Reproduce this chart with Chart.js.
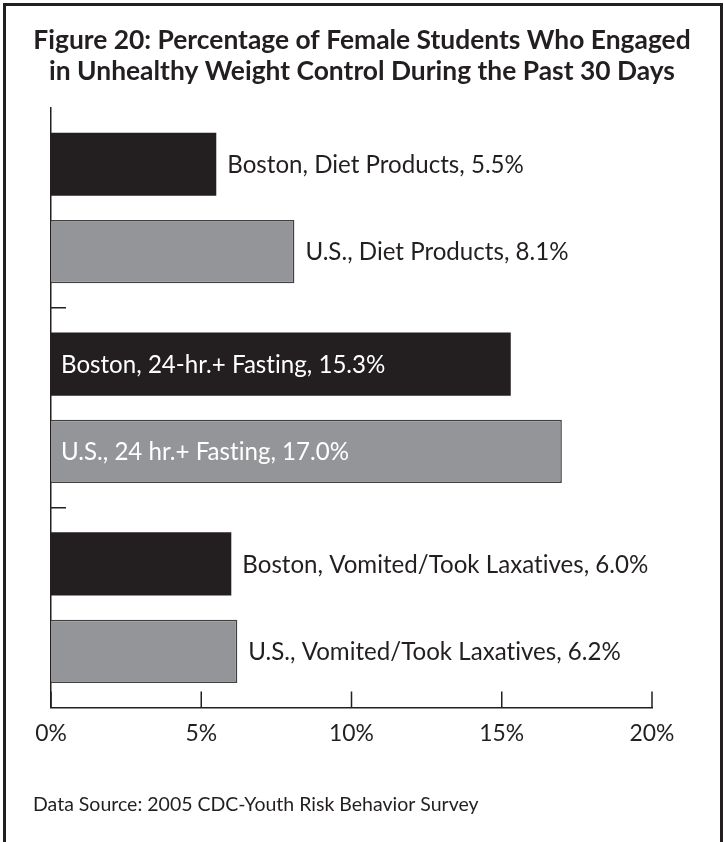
<!DOCTYPE html>
<html>
<head>
<meta charset="utf-8">
<script src="https://cdn.jsdelivr.net/npm/chart.js@4.4.0/dist/chart.umd.min.js"></script>
<style>
  html, body { margin: 0; padding: 0; background: #fff; }
  #frame { position: absolute; left: 3px; top: 3px; width: 720px; height: 1000px; border: 3px solid #231f20; box-sizing: border-box; }
  #wrap { position: absolute; left: 0; top: 0; width: 724px; height: 842px; }
</style>
</head>
<body>
<div id="frame"></div>
<div id="wrap"><canvas id="chart" width="724" height="842"></canvas></div>
<script>
  // data
  const categories = ['Diet Products', '24-hr.+ Fasting', 'Vomited/Took Laxatives'];
  const seriesNames = ['Boston', 'U.S.'];
  const bostonItems = ['Diet Products', '24-hr.+ Fasting', 'Vomited/Took Laxatives'];
  const usItems = ['Diet Products', '24 hr.+ Fasting', 'Vomited/Took Laxatives'];
  const bostonValues = [5.5, 15.3, 6.0];
  const usValues = [8.1, 17.0, 6.2];
  const xTicks = [0, 5, 10, 15, 20];
  const titleLines = [
    'Figure 20: Percentage of Female Students Who Engaged',
    'in Unhealthy Weight Control During the Past 30 Days'
  ];
  const sourceText = 'Data Source: 2005 CDC-Youth Risk Behavior Survey';

  const ink = '#231f20';
  const family = 'Lato, "Open Sans", sans-serif';

  // pick font sizes so text spans about as wide as in the figure
  function fitSize(text, weight, width) {
    const c = document.createElement('canvas').getContext('2d');
    c.font = weight + ' 100px ' + family;
    return Math.round(1000 * width / c.measureText(text).width) / 10;
  }
  const titleSize = fitSize(titleLines[0], 'bold', 657);
  const labelSize = fitSize('U.S., Vomited/Took Laxatives, 6.2%', 'normal', 373);
  const tickSize = fitSize('10%', 'normal', 45);
  const sourceSize = fitSize(sourceText, 'normal', 445);

  // labels next to (or inside) each bar
  const barLabels = {
    id: 'barLabels',
    afterDatasetsDraw(chart) {
      const ctx = chart.ctx;
      ctx.save();
      ctx.font = labelSize + 'px ' + family;
      ctx.letterSpacing = '0.01px'; // keeps "ti" from turning into a ligature
      ctx.textBaseline = 'middle';
      chart.data.datasets.forEach((ds, di) => {
        chart.getDatasetMeta(di).data.forEach((bar, i) => {
          const text = ds.label + ', ' + ds.items[i] + ', ' + ds.data[i].toFixed(1) + '%';
          const w = ctx.measureText(text).width;
          if (bar.x + 11 + w > chart.width - 30) {
            ctx.fillStyle = '#fff';
            ctx.fillText(text, chart.chartArea.left + 10, bar.y + 1);
          } else {
            ctx.fillStyle = ink;
            ctx.fillText(text, bar.x + 11, bar.y + 1);
          }
        });
      });
      ctx.restore();
    }
  };

  // tick marks point inward in the original
  const innerTicks = {
    id: 'innerTicks',
    afterDraw(chart) {
      const { ctx, chartArea } = chart;
      const xs = chart.scales.x, ys = chart.scales.y;
      ctx.save();
      ctx.strokeStyle = ink;
      ctx.lineWidth = 1.5;
      ctx.beginPath();
      xs.ticks.forEach(t => {
        const px = xs.getPixelForValue(t.value);
        ctx.moveTo(px, chartArea.bottom);
        ctx.lineTo(px, chartArea.bottom - 16);
      });
      for (let i = 0; i < categories.length - 1; i++) {
        const py = (ys.getPixelForValue(i) + ys.getPixelForValue(i + 1)) / 2;
        ctx.moveTo(chartArea.left, py);
        ctx.lineTo(chartArea.left + 15, py);
      }
      ctx.stroke();
      ctx.restore();
    }
  };

  const sourceNote = {
    id: 'sourceNote',
    afterDraw(chart) {
      const ctx = chart.ctx;
      ctx.save();
      ctx.font = sourceSize + 'px ' + family;
      ctx.fillStyle = ink;
      ctx.textBaseline = 'middle';
      ctx.fillText(sourceText, 33, 805);
      ctx.restore();
    }
  };

  new Chart(document.getElementById('chart'), {
    type: 'bar',
    data: {
      labels: categories,
      datasets: [
        {
          label: seriesNames[0],
          items: bostonItems,
          data: bostonValues,
          backgroundColor: ink,
          borderWidth: 0,
          categoryPercentage: 0.874,
          barPercentage: 0.724
        },
        {
          label: seriesNames[1],
          items: usItems,
          data: usValues,
          backgroundColor: '#939598',
          borderColor: '#414042',
          borderWidth: 1.5,
          categoryPercentage: 0.874,
          barPercentage: 0.724
        }
      ]
    },
    options: {
      indexAxis: 'y',
      responsive: false,
      animation: false,
      layout: { padding: { bottom: 83 } },
      plugins: {
        legend: { display: false },
        tooltip: { enabled: false },
        title: {
          display: true,
          text: titleLines,
          color: ink,
          font: { family: family, weight: 'bold', size: titleSize, lineHeight: 31 / titleSize },
          padding: { top: 25, bottom: 21 }
        }
      },
      scales: {
        x: {
          min: 0,
          max: 20,
          afterBuildTicks: s => { s.ticks = xTicks.map(v => ({ value: v })); },
          grid: { display: false, drawTicks: false },
          border: { display: true, color: ink, width: 1.5 },
          ticks: {
            color: ink,
            padding: 12,
            font: { family: family, size: tickSize },
            callback: v => v + '%'
          }
        },
        y: {
          type: 'category',
          grid: { display: false, drawTicks: false },
          border: { display: true, color: ink, width: 1.5 },
          ticks: { display: false },
          afterFit: s => { s.width = 51; }
        },
        yRight: {
          type: 'linear',
          position: 'right',
          grid: { display: false, drawTicks: false },
          border: { display: false },
          ticks: { display: false },
          afterFit: s => { s.width = 72; }
        }
      }
    },
    plugins: [barLabels, innerTicks, sourceNote]
  });
</script>
</body>
</html>
